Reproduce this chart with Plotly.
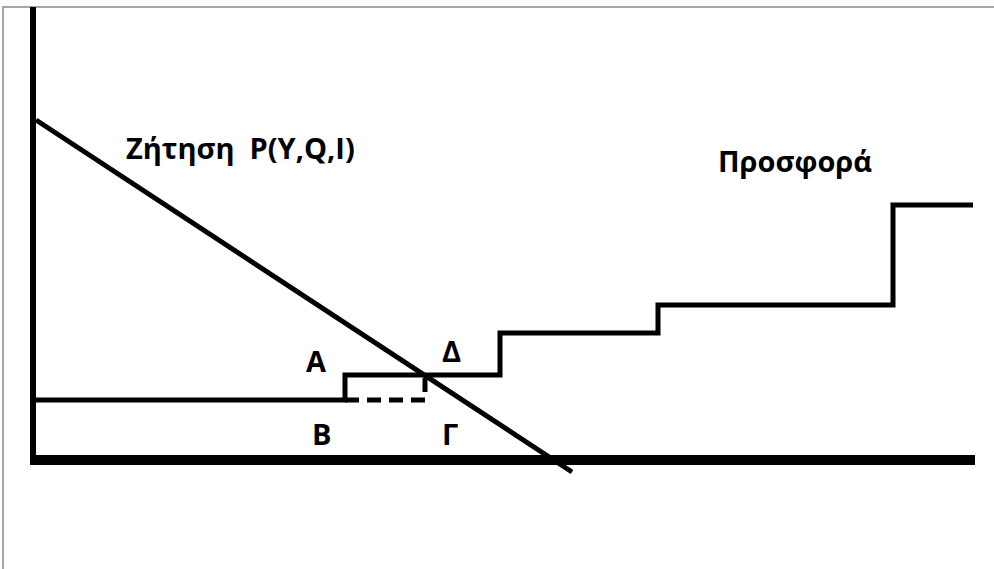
import plotly.graph_objects as go

# Diagram geometry (pixel-like coordinate system: x right, y down)
axis_v_x = [33, 33]
axis_v_y = [7, 465]
axis_h_x = [30, 975]
axis_h_y = [460, 460]

demand_x = [36, 572]
demand_y = [120, 472]

supply_x = [36, 345, 345, 500, 500, 658, 658, 893, 893, 973]
supply_y = [400, 400, 375, 375, 333, 333, 305, 305, 205, 205]

dash_x = [345, 425, 425]
dash_y = [400, 400, 378]

border_x = [3, 3, 994]
border_y = [569, 7, 7]

labels = ["Ζήτηση  P(Y,Q,I)", "Προσφορά", "Α", "Δ", "Β", "Γ"]
label_x = [240, 795, 316, 451, 321, 450]
label_y = [147, 160, 360, 350, 433, 433]
label_size = [29, 29, 29, 29, 29, 29]

fig = go.Figure()
fig.add_trace(go.Scatter(x=border_x, y=border_y, mode="lines",
                         line=dict(color="#a6a6a6", width=2), hoverinfo="skip"))
fig.add_trace(go.Scatter(x=demand_x, y=demand_y, mode="lines",
                         line=dict(color="black", width=5), hoverinfo="skip"))
fig.add_trace(go.Scatter(x=dash_x, y=dash_y, mode="lines",
                         line=dict(color="black", width=5, dash="14px,8px"), hoverinfo="skip"))
fig.add_trace(go.Scatter(x=supply_x, y=supply_y, mode="lines",
                         line=dict(color="black", width=5), hoverinfo="skip"))
fig.add_trace(go.Scatter(x=axis_v_x, y=axis_v_y, mode="lines",
                         line=dict(color="black", width=6), hoverinfo="skip"))
fig.add_trace(go.Scatter(x=axis_h_x, y=axis_h_y, mode="lines",
                         line=dict(color="black", width=10), hoverinfo="skip"))

for t, x, y, s in zip(labels, label_x, label_y, label_size):
    fig.add_annotation(x=x, y=y, text=f"<b>{t}</b>", showarrow=False,
                       font=dict(family="Open Sans", size=s, color="black"),
                       xanchor="center", yanchor="middle")

fig.update_layout(
    width=994, height=569,
    margin=dict(l=0, r=0, t=0, b=0),
    paper_bgcolor="white", plot_bgcolor="white",
    showlegend=False,
    xaxis=dict(range=[0, 994], visible=False, fixedrange=True),
    yaxis=dict(range=[569, 0], visible=False, fixedrange=True),
)
fig.write_html(
    "out.html",
    config={"displayModeBar": False},
    post_script="document.body.style.margin='0';document.body.style.overflow='hidden';",
)
